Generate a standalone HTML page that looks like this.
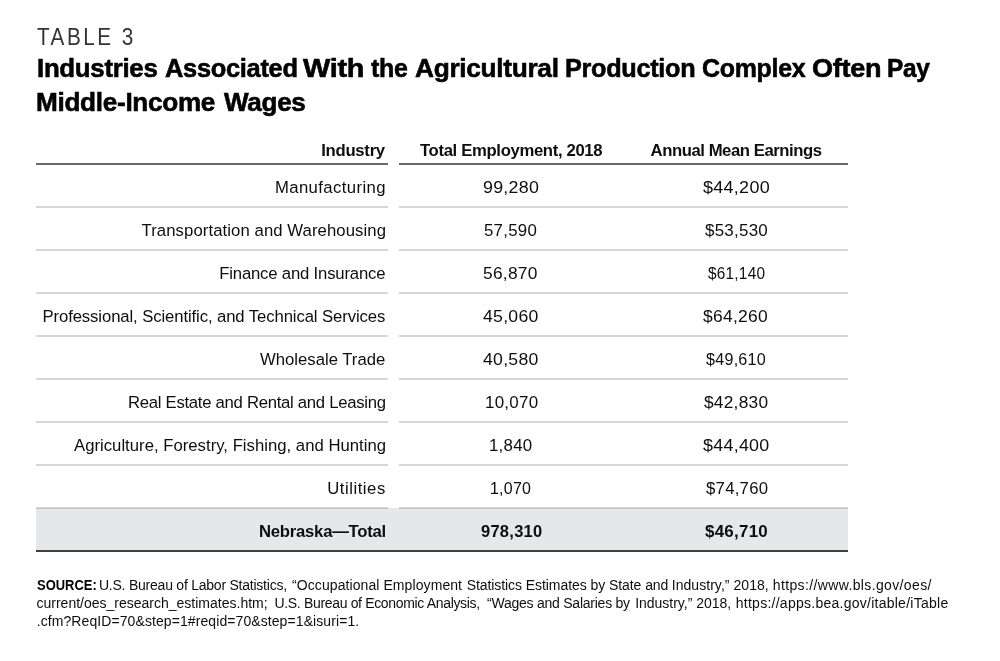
<!DOCTYPE html>
<html lang="en">
<head>
<meta charset="utf-8">
<title>Table 3</title>
<style>
  html, body { margin:0; padding:0; background:#fff; }
  body { width:1000px; height:661px; position:relative; overflow:hidden;
         font-family:"Liberation Sans", sans-serif; color:#1a1a1a; }
  .t { position:absolute; white-space:nowrap; line-height:1; font-weight:normal; }
  .b, .t b { font-weight:bold; color:#000; }
  .kick { color:#333; }
  .h1 { color:#000; }
  .c { color:#0e0e0e; }
  .src { color:#0e0e0e; }
  .ln { position:absolute; height:2px; }
  .hl { background:#67686a; top:163px; }
  .rl { background:rgba(0,0,0,0.16); }
  .c1 { left:36px; width:352px; }
  .c23 { left:398.5px; width:449.5px; }
  .total { position:absolute; left:36px; width:812px; top:508px; height:41.5px; background:#e6e7e8; }
  .bot { position:absolute; left:36px; width:812px; top:549.5px; height:2px; background:#404042; }
  .txt { position:absolute; left:0; top:0; width:1000px; height:661px; will-change:transform; }

</style>
</head>
<body>
<div class="ln hl c1"></div><div class="ln hl c23"></div>
<div class="ln rl c1" style="top:206px"></div><div class="ln rl c23" style="top:206px"></div>
<div class="ln rl c1" style="top:249px"></div><div class="ln rl c23" style="top:249px"></div>
<div class="ln rl c1" style="top:292px"></div><div class="ln rl c23" style="top:292px"></div>
<div class="ln rl c1" style="top:335px"></div><div class="ln rl c23" style="top:335px"></div>
<div class="ln rl c1" style="top:378px"></div><div class="ln rl c23" style="top:378px"></div>
<div class="ln rl c1" style="top:421px"></div><div class="ln rl c23" style="top:421px"></div>
<div class="ln rl c1" style="top:464px"></div><div class="ln rl c23" style="top:464px"></div>
<div class="total"></div>
<div class="ln rl c1" style="top:507px"></div><div class="ln rl c23" style="top:507px"></div>
<div class="bot"></div>
<div class="txt">
<div class="t kick" style="left:37.00px;top:25.50px;font-size:23.0px;letter-spacing:2.760px;transform:scaleX(0.9000);transform-origin:0 0">TABLE 3</div>
<div class="t h1 b" style="left:36.54px;top:54.75px;font-size:26.3px;letter-spacing:-0.300px;-webkit-text-stroke:0.6px #000;transform:scaleX(0.9823);transform-origin:0 0">Industries</div>
<div class="t h1 b" style="left:164.55px;top:54.75px;font-size:26.3px;letter-spacing:-0.300px;-webkit-text-stroke:0.6px #000;transform:scaleX(0.9662);transform-origin:0 0">Associated</div>
<div class="t h1 b" style="left:303.03px;top:54.75px;font-size:26.3px;letter-spacing:-0.300px;-webkit-text-stroke:0.6px #000;transform:scaleX(1.0994);transform-origin:0 0">With</div>
<div class="t h1 b" style="left:370.75px;top:54.75px;font-size:26.3px;letter-spacing:-0.300px;-webkit-text-stroke:0.6px #000;transform:scaleX(0.9513);transform-origin:0 0">the</div>
<div class="t h1 b" style="left:414.55px;top:54.75px;font-size:26.3px;letter-spacing:-0.300px;-webkit-text-stroke:0.6px #000;transform:scaleX(0.9978);transform-origin:0 0">Agricultural</div>
<div class="t h1 b" style="left:564.75px;top:54.75px;font-size:26.3px;letter-spacing:-0.300px;-webkit-text-stroke:0.6px #000;transform:scaleX(0.9594);transform-origin:0 0">Production</div>
<div class="t h1 b" style="left:701.57px;top:54.75px;font-size:26.3px;letter-spacing:-0.300px;-webkit-text-stroke:0.6px #000;transform:scaleX(0.9483);transform-origin:0 0">Complex</div>
<div class="t h1 b" style="left:812.30px;top:54.75px;font-size:26.3px;letter-spacing:-0.300px;-webkit-text-stroke:0.6px #000;transform:scaleX(1.0292);transform-origin:0 0">Often</div>
<div class="t h1 b" style="left:887.10px;top:54.75px;font-size:26.3px;letter-spacing:-0.300px;-webkit-text-stroke:0.6px #000;transform:scaleX(0.9289);transform-origin:0 0">Pay</div>
<div class="t h1 b" style="left:35.75px;top:89.00px;font-size:26.3px;letter-spacing:-0.300px;-webkit-text-stroke:0.6px #000;transform:scaleX(0.9939);transform-origin:0 0">Middle-Income</div>
<div class="t h1 b" style="left:223.68px;top:89.00px;font-size:26.3px;letter-spacing:-0.300px;-webkit-text-stroke:0.6px #000;transform:scaleX(0.9913);transform-origin:0 0">Wages</div>
<div class="t c b" style="left:321.20px;top:142.50px;font-size:16.7px;letter-spacing:-0.269px">Industry</div>
<div class="t c b" style="left:420.00px;top:142.50px;font-size:16.7px;letter-spacing:-0.343px">Total Employment, 2018</div>
<div class="t c b" style="left:650.52px;top:142.50px;font-size:16.7px;letter-spacing:-0.439px">Annual Mean Earnings</div>
<div class="t c" style="left:274.96px;top:180.00px;font-size:16.7px;letter-spacing:0.403px">Manufacturing</div>
<div class="t c" style="left:482.74px;top:180.00px;font-size:16.7px;letter-spacing:0.250px;transform:scaleX(1.0688);transform-origin:0 0">99,280</div>
<div class="t c" style="left:702.75px;top:180.00px;font-size:16.7px;letter-spacing:0.250px;transform:scaleX(1.0786);transform-origin:0 0">$44,200</div>
<div class="t c" style="left:141.52px;top:223.00px;font-size:16.7px;letter-spacing:0.092px">Transportation and Warehousing</div>
<div class="t c" style="left:483.64px;top:223.00px;font-size:16.7px;letter-spacing:0.250px;transform:scaleX(1.0089);transform-origin:0 0">57,590</div>
<div class="t c" style="left:705.00px;top:223.00px;font-size:16.7px;letter-spacing:0.250px;transform:scaleX(1.0152);transform-origin:0 0">$53,530</div>
<div class="t c" style="left:219.26px;top:266.00px;font-size:16.7px;letter-spacing:-0.178px">Finance and Insurance</div>
<div class="t c" style="left:483.22px;top:266.00px;font-size:16.7px;letter-spacing:0.250px;transform:scaleX(1.0399);transform-origin:0 0">56,870</div>
<div class="t c" style="left:708.00px;top:266.00px;font-size:16.7px;letter-spacing:0.250px;transform:scaleX(0.9215);transform-origin:0 0">$61,140</div>
<div class="t c" style="left:42.49px;top:309.00px;font-size:16.7px;letter-spacing:-0.101px">Professional, Scientific, and Technical Services</div>
<div class="t c" style="left:482.75px;top:309.00px;font-size:16.7px;letter-spacing:0.250px;transform:scaleX(1.0577);transform-origin:0 0">45,060</div>
<div class="t c" style="left:703.25px;top:309.00px;font-size:16.7px;letter-spacing:0.250px;transform:scaleX(1.0456);transform-origin:0 0">$64,260</div>
<div class="t c" style="left:260.00px;top:352.00px;font-size:16.7px;letter-spacing:0.000px">Wholesale Trade</div>
<div class="t c" style="left:482.75px;top:352.00px;font-size:16.7px;letter-spacing:0.250px;transform:scaleX(1.0577);transform-origin:0 0">40,580</div>
<div class="t c" style="left:705.75px;top:352.00px;font-size:16.7px;letter-spacing:0.250px;transform:scaleX(0.9669);transform-origin:0 0">$49,610</div>
<div class="t c" style="left:128.00px;top:395.00px;font-size:16.7px;letter-spacing:-0.278px">Real Estate and Rental and Leasing</div>
<div class="t c" style="left:484.72px;top:395.00px;font-size:16.7px;letter-spacing:0.250px;transform:scaleX(1.0145);transform-origin:0 0">10,070</div>
<div class="t c" style="left:703.75px;top:395.00px;font-size:16.7px;letter-spacing:0.250px;transform:scaleX(1.0352);transform-origin:0 0">$42,830</div>
<div class="t c" style="left:74.00px;top:438.00px;font-size:16.7px;letter-spacing:0.016px">Agriculture, Forestry, Fishing, and Hunting</div>
<div class="t c" style="left:489.00px;top:438.00px;font-size:16.7px;letter-spacing:0.250px;transform:scaleX(1.0095);transform-origin:0 0">1,840</div>
<div class="t c" style="left:703.00px;top:438.00px;font-size:16.7px;letter-spacing:0.250px;transform:scaleX(1.0724);transform-origin:0 0">$44,400</div>
<div class="t c" style="left:327.17px;top:481.00px;font-size:16.7px;letter-spacing:0.539px">Utilities</div>
<div class="t c" style="left:489.75px;top:481.00px;font-size:16.7px;letter-spacing:0.250px;transform:scaleX(0.9568);transform-origin:0 0">1,070</div>
<div class="t c" style="left:705.63px;top:481.00px;font-size:16.7px;letter-spacing:0.250px;transform:scaleX(1.0040);transform-origin:0 0">$74,760</div>
<div class="t c b" style="left:259.00px;top:524.00px;font-size:16.7px;letter-spacing:-0.246px">Nebraska—Total</div>
<div class="t c b" style="left:480.50px;top:524.00px;font-size:16.7px;letter-spacing:0.250px;transform:scaleX(0.9896);transform-origin:0 0">978,310</div>
<div class="t c b" style="left:705.00px;top:524.00px;font-size:16.7px;letter-spacing:0.250px;transform:scaleX(1.0157);transform-origin:0 0">$46,710</div>
<div class="t src" style="left:36.51px;top:577.50px;font-size:14px;letter-spacing:0.000px;transform:scaleX(0.9252);transform-origin:0 0"><b>SOURCE:</b></div>
<div class="t src" style="left:98.99px;top:577.50px;font-size:14px;letter-spacing:-0.233px">U.S. Bureau of Labor Statistics,</div>
<div class="t src" style="left:292.00px;top:577.50px;font-size:14px;letter-spacing:0.084px">“Occupational Employment</div>
<div class="t src" style="left:466.64px;top:577.50px;font-size:14px;letter-spacing:-0.067px">Statistics Estimates by State and</div>
<div class="t src" style="left:671.69px;top:577.50px;font-size:14px;letter-spacing:0.054px">Industry,” 2018,</div>
<div class="t src" style="left:772.78px;top:577.50px;font-size:14px;letter-spacing:0.368px">https://www.bls.gov/oes/</div>
<div class="t src" style="left:36.50px;top:595.50px;font-size:14px;letter-spacing:0.000px">current/oes_research_estimates.htm;</div>
<div class="t src" style="left:274.50px;top:595.50px;font-size:14px;letter-spacing:-0.335px">U.S. Bureau of Economic Analysis,</div>
<div class="t src" style="left:487.00px;top:595.50px;font-size:14px;letter-spacing:-0.238px">“Wages and Salaries by</div>
<div class="t src" style="left:635.13px;top:595.50px;font-size:14px;letter-spacing:-0.008px">Industry,” 2018,</div>
<div class="t src" style="left:735.78px;top:595.50px;font-size:14px;letter-spacing:0.257px">https://apps.bea.gov/itable/iTable</div>
<div class="t src" style="left:36.70px;top:613.50px;font-size:14px;letter-spacing:0.086px">.cfm?ReqID=70&amp;step=1#reqid=70&amp;step=1&amp;isuri=1.</div>
</div>
</body>
</html>
